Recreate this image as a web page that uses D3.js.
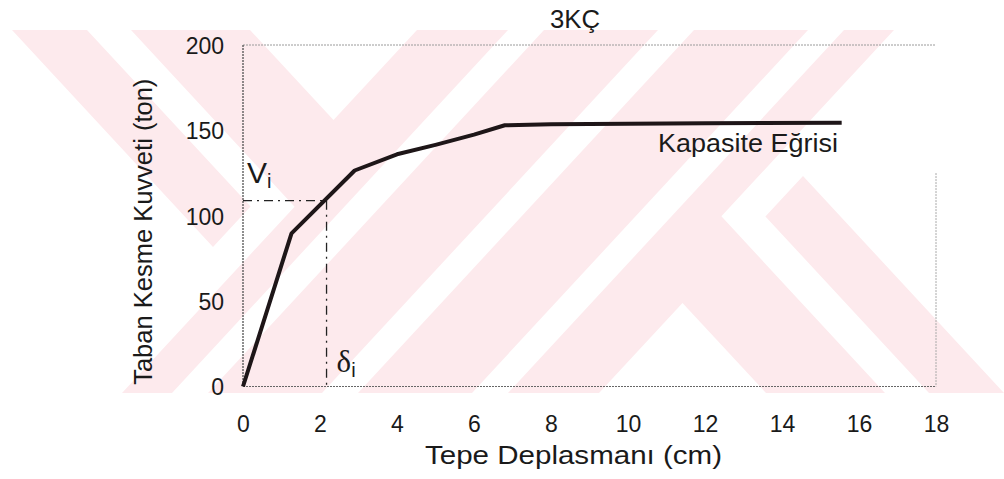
<!DOCTYPE html>
<html>
<head>
<meta charset="utf-8">
<script src="https://cdn.jsdelivr.net/npm/d3@7"></script>
<style>
  html, body { margin: 0; padding: 0; background: #fff; }
  svg { display: block; }
  text { font-family: "Liberation Sans", Arial, Helvetica, sans-serif; fill: #1a1a1a; }
</style>
</head>
<body>
<svg id="chart" width="1004" height="479"></svg>
<script>
// Capacity (pushover) curve: top displacement (cm) vs. base shear (ton)
const displacement = [0, 1.26, 2.9, 4.0, 5.0, 6.0, 6.8, 8.0, 12.0, 15.55];
const baseShear    = [0, 89.7, 126.5, 136, 141.5, 147.5, 153, 153.6, 154.1, 154.5];

// Marked point on the curve (V_i, delta_i)
const markDisp  = [2.17];
const markShear = [108.8];

const xTicks = [0, 2, 4, 6, 8, 10, 12, 14, 16, 18];
const yTicks = [0, 50, 100, 150, 200];

const titleText  = "3KÇ";
const xTitleText = "Tepe Deplasmanı (cm)";
const yTitleText = "Taban Kesme Kuvveti (ton)";
const curveLabel = "Kapasite Eğrisi";

const svg = d3.select("#chart");
const W = 1004, H = 479;
const m = { left: 243, right: 1004 - 936, top: 45, bottom: 479 - 386.5 };

const x = d3.scaleLinear().domain([0, 18]).range([m.left, W - m.right]);
const y = d3.scaleLinear().domain([0, 200]).range([H - m.bottom, m.top]);

// ---- background emblem: pale pink field cut by white chevrons and diagonal stripes ----
const emblemTop = 30, emblemBottom = 393;
const wm = svg.append("g").attr("class", "emblem");
wm.append("clipPath").attr("id", "emblem-clip")
  .append("rect").attr("x", 0).attr("y", emblemTop).attr("width", W).attr("height", emblemBottom - emblemTop);
const field = wm.append("g").attr("clip-path", "url(#emblem-clip)");
field.append("rect").attr("x", 0).attr("y", emblemTop).attr("width", W)
  .attr("height", emblemBottom - emblemTop).attr("fill", "#fdeaed");

// one half of the emblem; the other half is the same shapes turned 180 degrees
const halfShapes = [
  [[-20, 30], [12, 30], [213, 247], [250.6, 206.6], [87, 30], [131, 30], [294.6, 206.7], [122, 393], [-20, 393]],
  [[250, 30], [333.5, 120], [417, 30]],
  [[508, 30], [544, 30], [208, 393], [172, 393]]
];
const centreStripe = [[658, 30], [694, 30], [358, 393], [322, 393]];
const poly = p => p.map(d => d.join(",")).join(" ");

const halfA = field.append("g").attr("fill", "#ffffff");
const halfB = field.append("g").attr("fill", "#ffffff").attr("transform", "rotate(180,508,211.5)");
halfShapes.forEach(p => {
  halfA.append("polygon").attr("points", poly(p));
  halfB.append("polygon").attr("points", poly(p));
});
field.append("polygon").attr("points", poly(centreStripe)).attr("fill", "#ffffff");

// ---- frame: left and bottom axes dotted dark, top and right fainter ----
const frame = svg.append("g");
frame.append("line")
  .attr("x1", x(0)).attr("x2", x(18)).attr("y1", y(200)).attr("y2", y(200))
  .attr("stroke", "#9a9a9a").attr("stroke-width", 1).attr("stroke-dasharray", "2,1");
frame.append("line")
  .attr("x1", x(18)).attr("x2", x(18)).attr("y1", y(125)).attr("y2", y(0))
  .attr("stroke", "#a8a8a8").attr("stroke-width", 1).attr("stroke-dasharray", "2,1");
frame.append("line")
  .attr("x1", x(0)).attr("x2", x(0)).attr("y1", y(200)).attr("y2", y(0))
  .attr("stroke", "#444").attr("stroke-width", 1.2).attr("stroke-dasharray", "2,1");
frame.append("line")
  .attr("x1", x(0)).attr("x2", x(18)).attr("y1", y(0)).attr("y2", y(0))
  .attr("stroke", "#666").attr("stroke-width", 1.2).attr("stroke-dasharray", "2,1");

// ---- axes (labels only, no tick marks) ----
const xAxis = d3.axisBottom(x).tickValues(xTicks).tickSize(0).tickPadding(0).tickFormat(d3.format("d"));
const yAxis = d3.axisLeft(y).tickValues(yTicks).tickSize(0).tickPadding(0).tickFormat(d3.format("d"));

const gx = svg.append("g").attr("transform", `translate(0,${y(0)})`).call(xAxis);
gx.select(".domain").remove();
gx.selectAll("text").attr("y", 45).attr("dy", 0).style("font-size", "23px")
  .style("font-family", "'Liberation Sans', Arial, sans-serif").attr("fill", "#1a1a1a");

const gy = svg.append("g").attr("transform", `translate(${x(0)},0)`).call(yAxis);
gy.select(".domain").remove();
gy.selectAll("text").attr("x", -19).attr("dy", "0.36em").style("font-size", "23px")
  .style("font-family", "'Liberation Sans', Arial, sans-serif").attr("fill", "#1a1a1a");

// ---- dash-dot guide lines to the marked point ----
const guide = svg.append("g").attr("stroke", "#222").attr("stroke-width", 1.3)
  .attr("stroke-dasharray", "9,5,2,5").attr("fill", "none");
guide.append("line")
  .attr("x1", x(0)).attr("x2", x(markDisp[0])).attr("y1", y(markShear[0])).attr("y2", y(markShear[0]));
guide.append("line")
  .attr("x1", x(markDisp[0])).attr("x2", x(markDisp[0])).attr("y1", y(markShear[0])).attr("y2", y(0));

// ---- capacity curve ----
const pts = displacement.map((d, i) => [d, baseShear[i]]);
const line = d3.line().x(d => x(d[0])).y(d => y(d[1]));
svg.append("path").datum(pts).attr("d", line)
  .attr("fill", "none").attr("stroke", "#1e1618").attr("stroke-width", 4)
  .attr("stroke-linejoin", "round").attr("stroke-linecap", "butt");

// ---- annotations ----
const vi = svg.append("text").attr("x", x(0) + 4).attr("y", 183)
  .style("font-size", "30px");
vi.append("tspan").text("V");
vi.append("tspan").attr("dy", 5).style("font-size", "20px").text("i");

const di = svg.append("text").attr("x", x(markDisp[0]) + 10).attr("y", 372)
  .style("font-size", "31px").style("font-family", "'Liberation Serif', 'Times New Roman', serif");
di.append("tspan").text("δ");
di.append("tspan").attr("dy", 5).style("font-size", "20px")
  .style("font-family", "'Liberation Sans', Arial, sans-serif").text("i");

svg.append("text").attr("x", 658).attr("y", 152)
  .attr("textLength", 180).attr("lengthAdjust", "spacingAndGlyphs")
  .style("font-size", "25px").text(curveLabel);

svg.append("text").attr("x", 550).attr("y", 28)
  .attr("textLength", 50).attr("lengthAdjust", "spacingAndGlyphs")
  .style("font-size", "25px").text(titleText);

svg.append("text").attr("x", 425).attr("y", 464)
  .attr("textLength", 297).attr("lengthAdjust", "spacingAndGlyphs")
  .style("font-size", "26px").text(xTitleText);

svg.append("text")
  .attr("transform", `translate(152,${(y(0) + y(200)) / 2 + 16}) rotate(-90)`)
  .attr("text-anchor", "middle").style("font-size", "25.5px").text(yTitleText);
</script>
</body>
</html>
